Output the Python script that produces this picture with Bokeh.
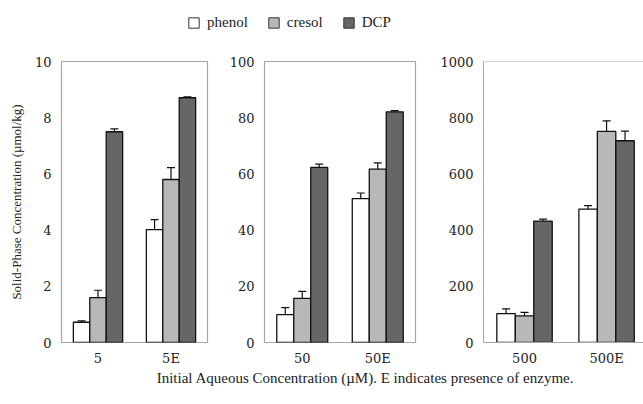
from bokeh.plotting import figure
from bokeh.models import (Range1d, ColumnDataSource, Whisker, TeeHead, FixedTicker,
                          Legend, LegendItem, Label, Span)
from bokeh.layouts import column, row
from bokeh.embed import file_html
from bokeh.resources import INLINE

# ---------------- data ----------------
series = ["phenol", "cresol", "DCP"]

cats_5 = ["5", "5E"]
phenol_5 = [0.72, 4.02]
phenol_5_err = [0.05, 0.35]
cresol_5 = [1.6, 5.8]
cresol_5_err = [0.26, 0.42]
dcp_5 = [7.5, 8.71]
dcp_5_err = [0.1, 0.03]

cats_50 = ["50", "50E"]
phenol_50 = [9.9, 51.2]
phenol_50_err = [2.5, 2.0]
cresol_50 = [15.7, 61.7]
cresol_50_err = [2.5, 2.2]
dcp_50 = [62.3, 82.1]
dcp_50_err = [1.2, 0.4]

cats_500 = ["500", "500E"]
phenol_500 = [103, 475]
phenol_500_err = [17, 12]
cresol_500 = [95, 751]
cresol_500_err = [12, 38]
dcp_500 = [432, 718]
dcp_500_err = [7, 34]

y_max = [10, 100, 1000]
y_ticks = [[0, 2, 4, 6, 8, 10], [0, 20, 40, 60, 80, 100], [0, 200, 400, 600, 800, 1000]]

# ---------------- style ----------------
FONT = "'Liberation Serif'"
TICK_FONT = "DejaVu Serif"
COLORS = ["#ffffff", "#b8b8b8", "#666666"]
FRAME = "#a6a6a6"
BAR_W = 0.225
TXT = "#222222"


def panel(cats, vals, errs, ymax, ticks, width, bl, br, xend, ylabel=None, last=False):
    p = figure(width=width, height=317, x_range=Range1d(0, xend), y_range=Range1d(0, ymax),
               toolbar_location=None, output_backend="svg",
               min_border_left=bl, min_border_right=br, min_border_top=8, min_border_bottom=28)
    p.xgrid.visible = False
    p.ygrid.visible = False
    centers = [i + 0.5 for i in range(len(cats))]
    offsets = [-BAR_W, 0, BAR_W]
    for k in range(3):
        xs = [c + offsets[k] for c in centers]
        src = ColumnDataSource(dict(x=xs, top=vals[k],
                                    lo=[v - e for v, e in zip(vals[k], errs[k])],
                                    hi=[v + e for v, e in zip(vals[k], errs[k])]))
        p.vbar(x="x", top="top", bottom=0, width=BAR_W, source=src,
               fill_color=COLORS[k], line_color="#111111", line_width=1.3)
        w = Whisker(base="x", lower="lo", upper="hi", source=src,
                    line_color="#111111", line_width=1.2,
                    upper_head=TeeHead(size=8, line_color="#111111", line_width=1.2),
                    lower_head=TeeHead(size=8, line_color="#111111", line_width=1.2))
        p.add_layout(w)
    p.xaxis.ticker = FixedTicker(ticks=centers)
    p.xaxis.major_label_overrides = {c: lab for c, lab in zip(centers, cats)}
    p.yaxis.ticker = FixedTicker(ticks=ticks)
    for ax in (p.xaxis, p.yaxis):
        ax.major_tick_line_color = None
        ax.minor_tick_line_color = None
        ax.major_tick_out = 0
        ax.major_tick_in = 0
        ax.minor_tick_out = 0
        ax.major_label_text_font = TICK_FONT
        ax.major_label_text_font_size = "13px"
        ax.major_label_text_color = TXT
    p.xaxis.major_label_standoff = 8
    p.xaxis.axis_label_standoff = 0
    p.yaxis.major_label_standoff = 10
    if last:
        p.outline_line_color = None
        p.xaxis.axis_line_color = FRAME
        p.yaxis.axis_line_color = FRAME
        p.add_layout(Span(location=ymax, dimension="width", line_color=FRAME, line_width=1.2))
    else:
        p.outline_line_color = FRAME
        p.outline_line_width = 1.2
        p.outline_line_alpha = 1
        p.xaxis.axis_line_color = None
        p.yaxis.axis_line_color = None
    if ylabel:
        p.yaxis.axis_label = ylabel
        p.yaxis.axis_label_text_font = FONT
        p.yaxis.axis_label_text_font_size = "13px"
        p.yaxis.axis_label_text_font_style = "normal"
        p.yaxis.axis_label_text_color = TXT
        p.yaxis.axis_label_standoff = 8
    else:
        p.yaxis.axis_label_standoff = 0
    return p


f1 = panel(cats_5, [phenol_5, cresol_5, dcp_5], [phenol_5_err, cresol_5_err, dcp_5_err],
           y_max[0], y_ticks[0], 226, 61, 19, 2,
           ylabel="Solid-Phase Concentration (\u00b5mol/kg)")
f2 = panel(cats_50, [phenol_50, cresol_50, dcp_50], [phenol_50_err, cresol_50_err, dcp_50_err],
           y_max[1], y_ticks[1], 211, 33, 22, 2)
f3 = panel(cats_500, [phenol_500, cresol_500, dcp_500], [phenol_500_err, cresol_500_err, dcp_500_err],
           y_max[2], y_ticks[2], 206, 42, 0, 1.95, last=True)

# ---------------- legend (top) ----------------
top = figure(width=643, height=53, x_range=Range1d(0, 1), y_range=Range1d(0, 1),
             toolbar_location=None, output_backend="svg",
             x_axis_location=None, y_axis_location=None,
             min_border_left=0, min_border_right=0, min_border_top=0, min_border_bottom=0)
top.xgrid.visible = False
top.ygrid.visible = False
top.outline_line_color = None
items = []
for k, name in enumerate(series):
    r = top.vbar(x=[0.5], top=[phenol_5[0]], width=0.1, fill_color=COLORS[k],
                 line_color="#333333", line_width=1, visible=False)
    items.append(LegendItem(label=name, renderers=[r]))
legend = Legend(items=items, orientation="horizontal", location=(187, 22),
                glyph_width=13, glyph_height=13, label_height=13, label_standoff=7, spacing=19,
                padding=0, margin=0, border_line_color=None, background_fill_alpha=0,
                label_text_font=FONT, label_text_font_size="15px", label_text_color=TXT)
top.add_layout(legend)

# ---------------- x title (bottom) ----------------
bottom = figure(width=643, height=34, x_range=Range1d(0, 1), y_range=Range1d(0, 1),
                toolbar_location=None, output_backend="svg",
                x_axis_location=None, y_axis_location=None,
                min_border_left=0, min_border_right=0, min_border_top=0, min_border_bottom=0)
bottom.xgrid.visible = False
bottom.ygrid.visible = False
bottom.outline_line_color = None
bottom.add_layout(Label(x=365, y=27, x_units="screen", y_units="screen",
                        text="Initial Aqueous Concentration (\u00b5M). E indicates presence of enzyme.",
                        text_font=FONT, text_font_size="15px", text_color=TXT,
                        text_align="center", text_baseline="middle"))

layout = column(top, row(f1, f2, f3), bottom)

with open("out.html", "w") as fh:
    fh.write(file_html(layout, INLINE))
